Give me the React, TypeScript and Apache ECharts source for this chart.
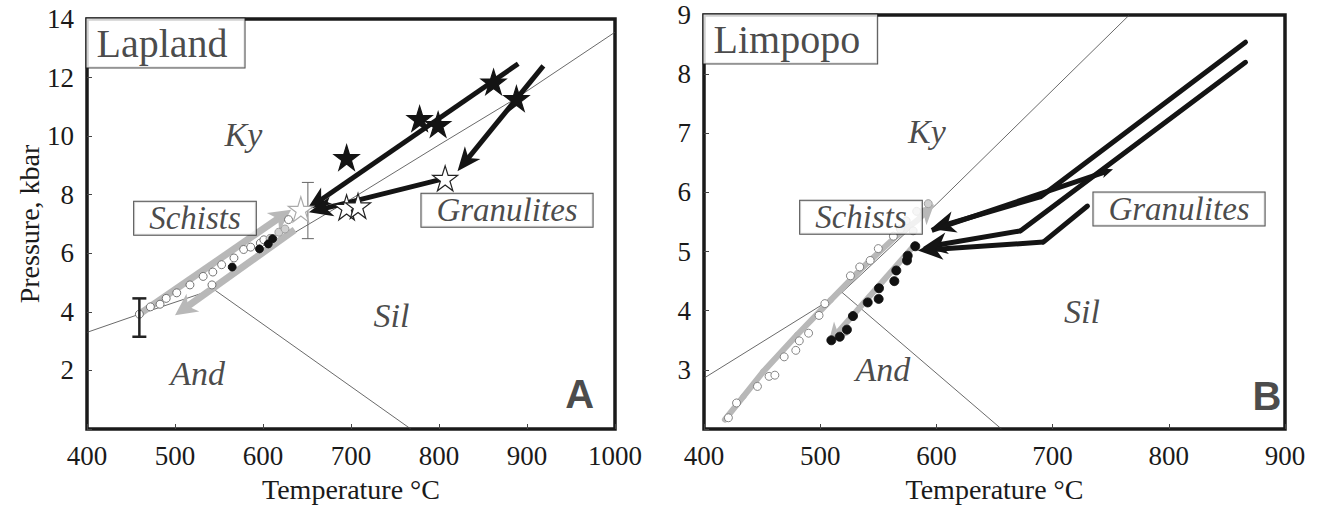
import React, { useEffect, useRef } from "react";
import * as echarts from "echarts";

const SERIF = "Liberation Serif";
const SANS = "Liberation Sans";
const STAR =
  "path://M0,-10 L2.245,-3.09 L9.51,-3.09 L3.633,1.18 L5.88,8.09 L0,3.82 L-5.88,8.09 L-3.633,1.18 L-9.51,-3.09 L-2.245,-3.09 Z";

// ---------------- Panel A : Lapland ----------------
const lapTemp = { min: 400, max: 1000, step: 100 };
const lapPres = { min: 0, max: 14, step: 2 };
const lapAndKy = [[400, 3.3], [459.5, 3.92], [544, 4.77]];
const lapKySil = [[544, 4.77], [630, 6.6], [700, 7.85], [800, 9.7], [888, 11.3], [1000, 13.55]];
const lapAndSil = [[544, 4.77], [768, 0]];
const lapSchistOpen = [
  [459.5, 3.92], [472, 4.17], [483, 4.26], [490, 4.46], [502, 4.65], [517, 4.92], [532, 5.21],
  [542, 4.92], [543, 5.36], [553, 5.61], [567, 5.84], [578, 6.13], [586, 6.21], [597, 6.35],
  [601, 6.46], [629, 7.15],
];
const lapSchistGrey = [[608, 6.51], [618, 6.72], [625, 6.83]];
const lapSchistBlack = [[565, 5.53], [596, 6.15], [606, 6.32], [611, 6.5]];
const lapStarsSolid = [[695, 9.27], [778, 10.6], [799, 10.4], [862, 11.85], [888, 11.28]];
const lapStarsOpen = [[807, 8.56], [695, 7.57], [708, 7.62]];
const lapStarsFaint = [[643, 7.5]];
const lapBlackArrows = [
  [[890, 12.47], [650, 7.5]],
  [[918.6, 12.4], [821, 8.8]],
  [[807, 8.56], [652, 7.4]],
];
const lapGreyArrows = [
  [[459.5, 3.92], [632, 7.49]],
  [[636, 6.8], [500, 3.88]],
];
const lapErrBlack = [[459.5, 3.15, 4.46]];
const lapErrGrey = [[651, 6.5, 8.42]];
const lapFields = [
  { name: "Ky", value: [577.7, 10.06] },
  { name: "Sil", value: [746, 3.86] },
  { name: "And", value: [525.7, 1.88] },
];
const lapBoxes = [
  { name: "Schists", value: [522.7, 7.2] },
  { name: "Granulites", value: [877.3, 7.47] },
];
const lapTitle = [{ name: "Lapland", value: [400, 14] }];
const lapLetter = [{ name: "A", value: [960, 1.19] }];

// ---------------- Panel B : Limpopo ----------------
const limTemp = { min: 400, max: 900, step: 100 };
const limPres = { min: 2, max: 9, step: 1 };
const limAndKy = [[400, 2.86], [518.8, 4.31]];
const limKySil = [[518.8, 4.31], [600, 5.8], [766, 9]];
const limAndSil = [[518.8, 4.31], [656, 2.0]];
const limSchistOpen = [
  [421, 2.19], [428, 2.44], [446, 2.72], [456, 2.89], [461, 2.91], [469, 3.22], [479, 3.33],
  [482, 3.49], [490, 3.62], [499, 3.92], [504, 4.12], [526, 4.59], [534, 4.74], [543, 4.85],
  [550, 5.05], [563, 5.26],
];
const limSchistGrey = [[569, 5.38], [574, 5.52], [580, 5.35], [583, 5.68], [593, 5.81]];
const limSchistBlack = [
  [509.6, 3.5], [516.8, 3.56], [523, 3.68], [528.2, 3.91], [540.9, 4.14], [550.3, 4.2],
  [550.6, 4.38], [563.8, 4.5], [565.5, 4.68], [574.7, 4.85], [575.3, 4.93], [581.8, 5.09],
];
const limGreyArrows = [
  [[418, 2.16], [434, 2.55], [451, 2.97], [480, 3.59], [509, 4.18], [537, 4.74], [566, 5.27], [583, 5.52], [598, 5.8]],
  [[583, 5.15], [507, 3.45]],
];
const limBlackArrows = [
  [[866, 8.54], [690, 5.93], [595, 5.38]],
  [[866, 8.2], [672.5, 5.35], [588, 5.07]],
  [[730, 5.77], [692, 5.16], [584, 5.02]],
];
const limSmallArrows = [[[596, 5.36], [752, 6.39]]];
const limFields = [
  { name: "Ky", value: [591.9, 7.03] },
  { name: "Sil", value: [725.3, 3.99] },
  { name: "And", value: [554, 3.01] },
];
const limBoxes = [
  { name: "Schists", value: [535.1, 5.58] },
  { name: "Granulites", value: [808.8, 5.72] },
];
const limTitle = [{ name: "Limpopo", value: [400, 9] }];
const limLetter = [{ name: "B", value: [884.5, 2.56] }];

// ---------------- helpers ----------------
function toSegments(paths: number[][][]) {
  const rows: number[][] = [];
  paths.forEach((path) => {
    for (let i = 1; i < path.length; i++) {
      rows.push([path[i - 1][0], path[i - 1][1], path[i][0], path[i][1], i === path.length - 1 ? 1 : 0]);
    }
  });
  return rows;
}

function arrowRenderer(color: string, width: number, headLen: number, headHalf: number) {
  return (_params: any, api: any) => {
    const p1 = api.coord([api.value(0), api.value(1)]);
    const p2 = api.coord([api.value(2), api.value(3)]);
    const head = api.value(4);
    const dx = p2[0] - p1[0];
    const dy = p2[1] - p1[1];
    const len = Math.hypot(dx, dy) || 1;
    const ux = dx / len;
    const uy = dy / len;
    const nx = -uy;
    const ny = ux;
    const children: any[] = [];
    let end = p2;
    if (head) {
      end = [p2[0] - ux * headLen * 0.6, p2[1] - uy * headLen * 0.6];
    }
    children.push({
      type: "line",
      shape: { x1: p1[0], y1: p1[1], x2: end[0], y2: end[1] },
      style: { stroke: color, lineWidth: width, lineCap: head ? "butt" : "round" },
    });
    if (head) {
      children.push({
        type: "polygon",
        shape: {
          points: [
            [p2[0], p2[1]],
            [p2[0] - ux * headLen + nx * headHalf, p2[1] - uy * headLen + ny * headHalf],
            [p2[0] - ux * headLen * 0.72, p2[1] - uy * headLen * 0.72],
            [p2[0] - ux * headLen - nx * headHalf, p2[1] - uy * headLen - ny * headHalf],
          ],
        },
        style: { fill: color },
      });
    }
    return { type: "group", children };
  };
}

function errorBarRenderer(color: string, width: number, capHalf: number) {
  return (_params: any, api: any) => {
    const x = api.value(0);
    const lo = api.coord([x, api.value(1)]);
    const hi = api.coord([x, api.value(2)]);
    const style = { stroke: color, lineWidth: width };
    return {
      type: "group",
      children: [
        { type: "line", shape: { x1: lo[0], y1: lo[1], x2: hi[0], y2: hi[1] }, style },
        { type: "line", shape: { x1: lo[0] - capHalf, y1: lo[1], x2: lo[0] + capHalf, y2: lo[1] }, style },
        { type: "line", shape: { x1: hi[0] - capHalf, y1: hi[1], x2: hi[0] + capHalf, y2: hi[1] }, style },
      ],
    };
  };
}

function thinLine(idx: number, data: number[][]) {
  return {
    type: "line",
    xAxisIndex: idx,
    yAxisIndex: idx,
    data,
    symbol: "none",
    lineStyle: { color: "#444", width: 0.8 },
    z: 1,
    silent: true,
  };
}

function arrows(idx: number, paths: number[][][], color: string, width: number, hl: number, hh: number, z: number) {
  return {
    type: "custom",
    xAxisIndex: idx,
    yAxisIndex: idx,
    data: toSegments(paths),
    renderItem: arrowRenderer(color, width, hl, hh),
    encode: { x: [0, 2], y: [1, 3] },
    z,
    silent: true,
  };
}

function errBars(idx: number, data: number[][], color: string, width: number, cap: number) {
  return {
    type: "custom",
    xAxisIndex: idx,
    yAxisIndex: idx,
    data,
    renderItem: errorBarRenderer(color, width, cap),
    encode: { x: 0, y: [1, 2] },
    z: 4,
    silent: true,
  };
}

function dots(idx: number, data: number[][], fill: string, border: string, size: number, z: number) {
  return {
    type: "scatter",
    xAxisIndex: idx,
    yAxisIndex: idx,
    data,
    symbol: "circle",
    symbolSize: size,
    itemStyle: { color: fill, borderColor: border, borderWidth: 0.9, opacity: 1 },
    z,
    silent: true,
  };
}

function stars(idx: number, data: number[][], fill: string, border: string, size: number) {
  return {
    type: "scatter",
    xAxisIndex: idx,
    yAxisIndex: idx,
    data,
    symbol: STAR,
    symbolSize: size,
    itemStyle: { color: fill, borderColor: border, borderWidth: 1.2, opacity: 1 },
    z: 8,
    silent: true,
  };
}

function textSeries(idx: number, data: any[], label: any, z = 9) {
  return {
    type: "scatter",
    xAxisIndex: idx,
    yAxisIndex: idx,
    data,
    symbolSize: 1,
    itemStyle: { color: "transparent" },
    label: { show: true, formatter: "{b}", ...label },
    z,
    silent: true,
  };
}

const fieldLabel = { position: "inside", fontFamily: SERIF, fontStyle: "italic", fontSize: 34, color: "#1a1a1a" };
const boxLabel = {
  position: "inside",
  fontFamily: SERIF,
  fontStyle: "italic",
  fontSize: 33,
  color: "#1a1a1a",
  backgroundColor: "#fff",
  borderColor: "#222",
  borderWidth: 1,
  padding: [1, 15, 0, 15],
  lineHeight: 32,
};
const titleLabel = {
  position: [0, 0],
  align: "left",
  verticalAlign: "top",
  fontFamily: SERIF,
  fontSize: 40,
  color: "#1a1a1a",
  backgroundColor: "#fff",
  borderColor: "#222",
  borderWidth: 1,
  padding: [3, 17, 2, 10],
  lineHeight: 44,
};
const letterLabel = { position: "inside", fontFamily: SANS, fontWeight: "bold", fontSize: 40, color: "#1a1a1a" };

function xAxis(idx: number, r: { min: number; max: number; step: number }) {
  return {
    type: "value",
    gridIndex: idx,
    min: r.min,
    max: r.max,
    interval: r.step,
    name: "Temperature °C",
    nameLocation: "middle",
    nameGap: 46,
    nameTextStyle: { fontFamily: SERIF, fontSize: 28, color: "#1a1a1a" },
    axisLine: { show: false },
    axisTick: { show: true, inside: true, length: 5, lineStyle: { color: "#444", width: 1 } },
    axisLabel: {
      fontFamily: SERIF,
      fontSize: 27,
      color: "#1a1a1a",
      margin: 13,
      formatter: (v: number) => String(v),
    },
    splitLine: { show: false },
  };
}

function yAxis(idx: number, r: { min: number; max: number; step: number }, name: string) {
  return {
    type: "value",
    gridIndex: idx,
    min: r.min,
    max: r.max,
    interval: r.step,
    name,
    nameLocation: "middle",
    nameRotate: 90,
    nameGap: 44,
    nameTextStyle: { fontFamily: SERIF, fontSize: 28, color: "#1a1a1a" },
    axisLine: { show: false },
    axisTick: { show: true, inside: true, length: 5, lineStyle: { color: "#444", width: 1 } },
    axisLabel: {
      fontFamily: SERIF,
      fontSize: 27,
      color: "#1a1a1a",
      margin: 13,
      formatter: (v: number) => (v === r.min ? "" : String(v)),
    },
    splitLine: { show: false },
  };
}

export default function App() {
  const ref = useRef<HTMLDivElement>(null);
  useEffect(() => {
    if (!ref.current) return;
    const chart = echarts.init(ref.current, undefined, { renderer: "svg" });
    const option: any = {
      animation: false,
      backgroundColor: "#fff",
      textStyle: { fontFamily: SERIF },
      grid: [
        { left: 87, top: 19, width: 528, height: 412, show: true, borderColor: "#1a1a1a", borderWidth: 3.5, backgroundColor: "transparent" },
        { left: 704, top: 15, width: 581, height: 416, show: true, borderColor: "#1a1a1a", borderWidth: 3.5, backgroundColor: "transparent" },
      ],
      xAxis: [xAxis(0, lapTemp), xAxis(1, limTemp)],
      yAxis: [yAxis(0, lapPres, "Pressure, kbar"), yAxis(1, limPres, "")],
      series: [
        // Lapland
        thinLine(0, lapAndKy),
        thinLine(0, lapKySil),
        thinLine(0, lapAndSil),
        arrows(0, lapGreyArrows, "#b8b8b8", 7, 22, 11, 2),
        dots(0, lapSchistOpen, "#fff", "#666", 8, 3),
        dots(0, lapSchistGrey, "#cfcfcf", "#999", 8, 3),
        dots(0, lapSchistBlack, "#111", "#111", 8, 4),
        errBars(0, lapErrBlack, "#222", 2.5, 7),
        errBars(0, lapErrGrey, "#666", 1, 6),
        arrows(0, lapBlackArrows, "#141414", 5, 24, 10, 6),
        stars(0, lapStarsFaint, "#fff", "#aaa", 25),
        stars(0, lapStarsSolid, "#141414", "#141414", 25),
        stars(0, lapStarsOpen, "#fff", "#222", 25),
        textSeries(0, lapFields, fieldLabel),
        textSeries(0, lapBoxes, boxLabel),
        textSeries(0, lapTitle, titleLabel),
        textSeries(0, lapLetter, letterLabel),
        // Limpopo
        thinLine(1, limAndKy),
        thinLine(1, limKySil),
        thinLine(1, limAndSil),
        arrows(1, limGreyArrows, "#b8b8b8", 6, 20, 10, 2),
        dots(1, limSchistOpen, "#fff", "#777", 8, 3),
        dots(1, limSchistGrey, "#cfcfcf", "#999", 8, 3),
        dots(1, limSchistBlack, "#111", "#111", 9, 4),
        arrows(1, limBlackArrows, "#141414", 5, 25, 11, 6),
        arrows(1, limSmallArrows, "#141414", 5, 12, 5, 6),
        textSeries(1, limFields, fieldLabel),
        textSeries(1, limBoxes, boxLabel, 5),
        textSeries(1, limTitle, titleLabel),
        textSeries(1, limLetter, letterLabel),
      ],
    };
    chart.setOption(option);
    return () => chart.dispose();
  }, []);
  return <div ref={ref} style={{ position: "absolute", left: 0, top: 0, width: 1324, height: 508 }} />;
}
